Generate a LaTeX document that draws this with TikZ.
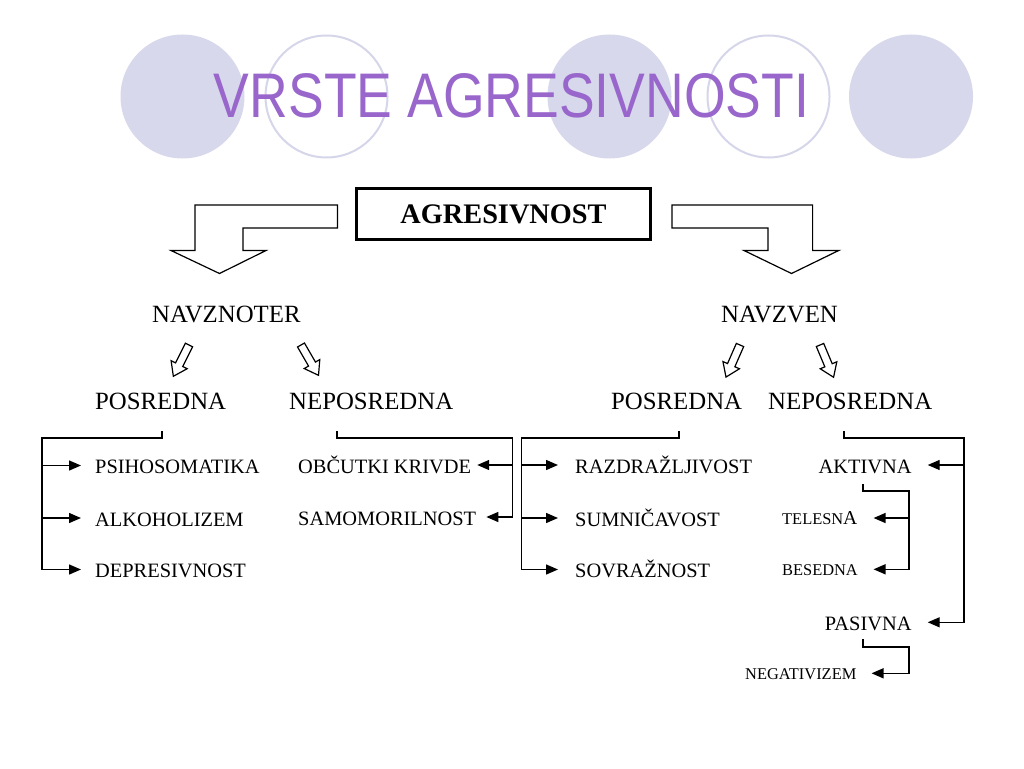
\documentclass[tikz,border=0pt]{standalone}
\usepackage{fontspec}
\setmainfont{Liberation Serif}
\newfontfamily\titlefont{Liberation Sans}
\usepackage{graphicx}
\usetikzlibrary{arrows.meta}
\definecolor{lav}{RGB}{216,216,236}
\definecolor{lavline}{RGB}{214,214,234}
\definecolor{titlepurple}{RGB}{153,102,204}
\newcommand\myfs[1]{\fontsize{#1}{#1}\selectfont}
\begin{document}
\begin{tikzpicture}[x=1pt,y=-1pt,
  line/.style={line width=1.4pt, black},
  arr/.style={line width=1.4pt, -{Triangle[length=12pt,width=10pt]}},
  item/.style={font=\myfs{20.4}, inner sep=0pt, text height=16.5pt, text depth=0pt},
  smallitem/.style={font=\myfs{16.4}, inner sep=0pt, text height=12.8pt, text depth=0pt},
  headtext/.style={font=\myfs{24.8}, inner sep=0pt, text height=16.4pt, text depth=0pt, anchor=west},
  blockarrow/.style={draw, line width=1.2pt, fill=white, line join=miter},
  hollow/.style={draw, line width=1.2pt, fill=white, line join=miter},
  fcirc/.style={fill=lav, draw=none},
  ocirc/.style={draw=lavline, line width=2pt, fill=none},
  ]
\useasboundingbox[fill=white] (0,0) rectangle (1024,768);

% title circles
\fill[fcirc] (182.5,96.5) circle[radius=62];
\draw[ocirc] (326.5,96.5) circle[radius=61];
\fill[fcirc] (609.5,96.5) circle[radius=62];
\draw[ocirc] (768.5,96.5) circle[radius=61];
\fill[fcirc] (911,96.5) circle[radius=62];

\node[anchor=base, inner sep=0pt, text=titlepurple] (title) at (511.5,117)
  {\scalebox{0.85}[1]{\titlefont\myfs{63}VRSTE AGRESIVNOSTI}};

% main box
\node[draw, line width=3.5pt, minimum width=294pt, minimum height=51pt, inner sep=0pt,
  font=\bfseries\myfs{28.3}] (agr) at (503.5,214) {AGRESIVNOST};

% block arrows
\draw[blockarrow] (337.5,205) -- (195,205) -- (195,250.5) -- (171,250.5) -- (219.5,273.5)
  -- (266,250.5) -- (243,250.5) -- (243,228) -- (337.5,228) -- cycle;
\draw[blockarrow] (672,205) -- (812.6,205) -- (812.6,250.5) -- (838.7,250.5) -- (791.5,273.5)
  -- (744,250.5) -- (768,250.5) -- (768,228) -- (672,228) -- cycle;

% headings
\node[headtext] (navznoter) at (152,314) {NAVZNOTER};
\node[headtext] (navzven) at (721,314) {NAVZVEN};
\node[headtext] (posL) at (95,401) {POSREDNA};
\node[headtext] (nepL) at (289,401) {NEPOSREDNA};
\node[headtext] (posR) at (611,401) {POSREDNA};
\node[headtext] (nepR) at (768,401) {NEPOSREDNA};

% small hollow arrows
\draw[hollow, shift={(189,345)}, rotate=-26.6] (-4,0) -- (4,0) -- (4,22) -- (9,22) -- (0,35) -- (-9,22) -- (-4,22) -- cycle;
\draw[hollow, shift={(301,345)}, rotate=30] (-4,0) -- (4,0) -- (4,22) -- (9,22) -- (0,35) -- (-9,22) -- (-4,22) -- cycle;
\draw[hollow, shift={(740,345)}, rotate=-23.6] (-4,0) -- (4,0) -- (4,22) -- (9,22) -- (0,35) -- (-9,22) -- (-4,22) -- cycle;
\draw[hollow, shift={(820,345)}, rotate=22.8] (-4,0) -- (4,0) -- (4,22) -- (9,22) -- (0,35) -- (-9,22) -- (-4,22) -- cycle;

% items
\node[item, anchor=west] (psi) at (95,465.5) {PSIHOSOMATIKA};
\node[item, anchor=west] (alk) at (95,518) {ALKOHOLIZEM};
\node[item, anchor=west] (dep) at (95,569.5) {DEPRESIVNOST};
\node[item, anchor=west] (obc) at (298,465) {OBČUTKI KRIVDE};
\node[item, anchor=west] (sam) at (298,517) {SAMOMORILNOST};
\node[item, anchor=west] (raz) at (575,465) {RAZDRAŽLJIVOST};
\node[item, anchor=west] (sum) at (575,518) {SUMNIČAVOST};
\node[item, anchor=west] (sov) at (575,569.5) {SOVRAŽNOST};
\node[item, anchor=east] (akt) at (911.7,465) {AKTIVNA};
\node[item, anchor=east] (pas) at (911.7,622.3) {PASIVNA};
\node[smallitem, anchor=west] (tel) at (782,518) {TELESN{\myfs{19.6}A}};
\node[smallitem, anchor=west] (bes) at (782,569.3) {BESEDNA};
\node[smallitem, anchor=west] (neg) at (745,673.3) {NEGATIVIZEM};

% bracket coordinates
\coordinate (pL) at (162,431);  \coordinate (pLc) at (42,438);
\coordinate (nL) at (337,431);  \coordinate (nLc) at (512.3,438);
\coordinate (pR) at (679,431);  \coordinate (pRc) at (521.5,438);
\coordinate (nR) at (844,431);  \coordinate (nRc) at (964,438);
\coordinate (aS) at (863,484);  \coordinate (aC) at (909,491);
\coordinate (sS) at (863,639);  \coordinate (sC) at (909,647);

% left POSREDNA
\draw[arr, shorten >=14pt] (pL) |- (pLc) |- (dep.west);
\draw[arr, shorten >=14pt] (pLc |- psi.west) -- (psi.west);
\draw[arr, shorten >=14pt] (pLc |- alk.west) -- (alk.west);
% left NEPOSREDNA
\draw[arr, shorten >=10pt] (nL) |- (nLc) |- (sam.east);
\draw[arr, shorten >=6pt] (nLc |- obc.east) -- (obc.east);
% right POSREDNA
\draw[arr, shorten >=17pt] (pR) |- (pRc) |- (sov.west);
\draw[arr, shorten >=17pt] (pRc |- raz.west) -- (raz.west);
\draw[arr, shorten >=17pt] (pRc |- sum.west) -- (sum.west);
% right NEPOSREDNA
\draw[arr, shorten >=16pt] (nR) |- (nRc) |- (pas.east);
\draw[arr, shorten >=16pt] (nRc |- akt.east) -- (akt.east);
% AKTIVNA
\draw[arr, shorten >=15.5pt] (aS) |- (aC) |- (bes.east);
\draw[arr, shorten >=16pt] (aC |- tel.east) -- (tel.east);
% PASIVNA
\draw[arr, shorten >=15pt] (sS) |- (sC) |- (neg.east);
\end{tikzpicture}
\end{document}
